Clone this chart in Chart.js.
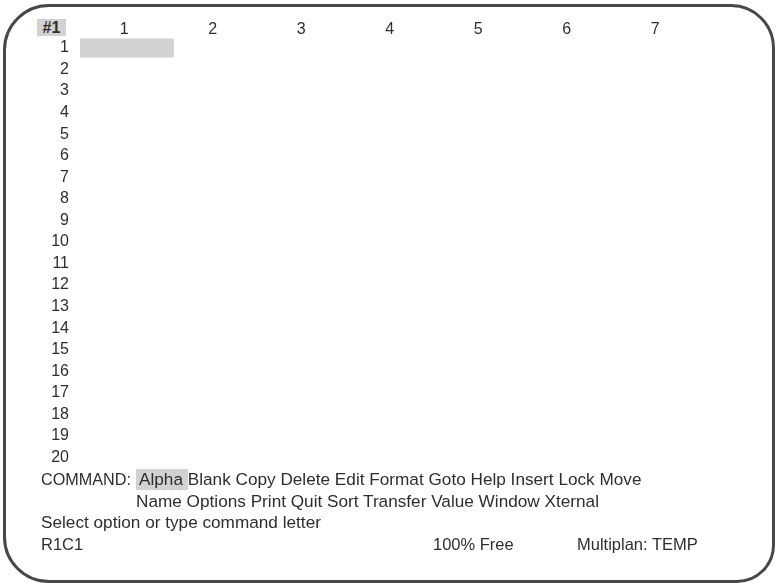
<!DOCTYPE html>
<html>
<head>
<meta charset="utf-8">
<script src="https://cdn.jsdelivr.net/npm/chart.js@4/dist/chart.umd.min.js"></script>
<style>
  html, body { margin: 0; padding: 0; background: #ffffff; }
  body { width: 776px; height: 584px; position: relative; overflow: hidden;
         font-family: "Liberation Sans", Arial, Helvetica, sans-serif; color: #2e2e2e; }
  #frame { position: absolute; left: 3px; top: 4px; width: 772px; height: 579px; box-sizing: border-box;
           border: 3px solid #474747; border-radius: 46px 44px 38px 46px; pointer-events: none; }
  #wrap { position: absolute; left: 0; top: 0; width: 776px; height: 584px; }
  .t { position: absolute; white-space: pre; font-size: 17.2px; line-height: 20px; color: #2e2e2e; }
  .hl { position: absolute; background-color: #d4d4d4; }
  #corner { position: absolute; left: 37px; top: 19px; width: 29px; height: 17px;
            font-size: 16px; font-weight: bold; line-height: 17px; text-align: center; color: #2e2e2e; }
</style>
</head>
<body>
<div id="wrap"><canvas id="c" width="776" height="584"></canvas></div>
<div id="corner" class="hlbg">#1</div>
<div class="hl hlbg" style="left:136px; top:469px; width:52px; height:21px;"></div>
<div class="t" style="left:41px; top:469px; font-size:16.2px;">COMMAND:</div>
<div class="t" style="left:139px; top:469px;">Alpha Blank Copy Delete Edit Format Goto Help Insert Lock Move</div>
<div class="t" style="left:136px; top:491px;">Name Options Print Quit Sort Transfer Value Window Xternal</div>
<div class="t" style="left:41px; top:512px;">Select option or type command letter</div>
<div class="t" style="left:41px; top:534px; font-size:16.5px;">R1C1</div>
<div class="t" style="left:433px; top:534px; font-size:16.5px;">100% Free</div>
<div class="t" style="left:577px; top:534px; font-size:16.5px;">Multiplan: TEMP</div>
<div id="frame"></div>
<script>
// Column headings shown across the top
const colLabels = ['1', '2', '3', '4', '5', '6', '7'];
// Row headings down the left side
const rowLabels = ['1', '2', '3', '4', '5', '6', '7', '8', '9', '10',
                   '11', '12', '13', '14', '15', '16', '17', '18', '19', '20'];
// Cell cursor: highlighted span of columns for each row (only R1C1 is active)
const cursorSpan = [[0.49, 1.56], null, null, null, null, null, null, null, null, null,
                    null, null, null, null, null, null, null, null, null, null];

// halftone-like grey texture for highlights
const pc = document.createElement('canvas');
pc.width = 2; pc.height = 2;
const px = pc.getContext('2d');
px.fillStyle = '#dadada'; px.fillRect(0, 0, 2, 2);
px.fillStyle = '#c9c9c9'; px.fillRect(0, 0, 1, 1); px.fillRect(1, 1, 1, 1);
const texUrl = pc.toDataURL();
document.querySelectorAll('.hlbg').forEach(el => {
  el.style.backgroundColor = '#d2d2d2';
  el.style.backgroundImage = 'url(' + texUrl + ')';
});
const mainCtx = document.getElementById('c').getContext('2d');
const cursorFill = mainCtx.createPattern(pc, 'repeat') || '#d2d2d2';

const tickFont = { family: "'Liberation Sans', Arial, sans-serif", size: 16 };

new Chart(document.getElementById('c'), {
  type: 'bar',
  data: {
    labels: rowLabels,
    datasets: [{
      label: 'Cursor',
      data: cursorSpan,
      backgroundColor: cursorFill,
      borderWidth: 0,
      barPercentage: 0.88,
      categoryPercentage: 1.0
    }]
  },
  options: {
    indexAxis: 'y',
    responsive: false,
    animation: false,
    events: [],
    layout: { padding: { top: 10, left: 0, right: 76.5, bottom: 115.7 } },
    plugins: { legend: { display: false }, tooltip: { enabled: false }, title: { display: false } },
    scales: {
      x: {
        type: 'linear',
        position: 'top',
        min: 0.5,
        max: 7.5,
        afterBuildTicks: (scale) => { scale.ticks = colLabels.map((l, i) => ({ value: i + 1 })); },
        afterFit: (scale) => { scale.height = 27.2; },
        ticks: {
          font: tickFont,
          color: '#2e2e2e',
          padding: -1.5,
          autoSkip: false,
          maxRotation: 0,
          callback: (v) => colLabels[Math.round(v) - 1] ?? ''
        },
        grid: { display: false, drawTicks: false },
        border: { display: false }
      },
      y: {
        type: 'category',
        position: 'left',
        afterFit: (scale) => { scale.width = 80; },
        ticks: { font: tickFont, color: '#2e2e2e', padding: 11, autoSkip: false },
        grid: { display: false, drawTicks: false },
        border: { display: false }
      }
    }
  }
});
</script>
</body>
</html>
